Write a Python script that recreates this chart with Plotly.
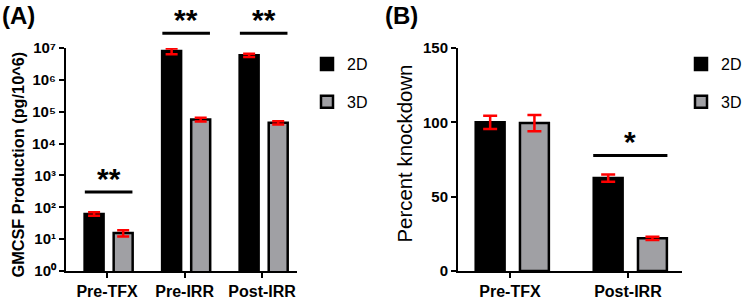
import math
import plotly.graph_objects as go

# ---------------- data ----------------
categories_A = ["Pre-TFX", "Pre-IRR", "Post-IRR"]
gmcsf_2d = [62, 8.0e6, 5.9e6]
gmcsf_2d_err = [8, 1.6e6, 7e5]
gmcsf_3d = [15.5, 5.7e4, 4.5e4]
gmcsf_3d_err = [3.5, 8e3, 5.5e3]
sig_A_x = [0, 1, 2]
sig_A_labels = ["**", "**", "**"]
sig_A_y = [300, 2.9e7, 2.9e7]
log_tickvals = [1, 10, 100, 1e3, 1e4, 1e5, 1e6, 1e7]
log_ticktext = ["10⁰", "10¹", "10²", "10³", "10⁴", "10⁵", "10⁶", "10⁷"]
title_A = "GMCSF Production (pg/10^6)"

categories_B = ["Pre-TFX", "Post-IRR"]
kd_2d = [100, 62.5]
kd_2d_err = [4.5, 2.4]
kd_3d = [99.5, 22]
kd_3d_err = [5.5, 1.1]
sig_B_x = [1]
sig_B_labels = ["*"]
sig_B_y = [77.7]
kd_tickvals = [0, 50, 100, 150]
title_B = "Percent knockdown"

series_names = ["2D", "3D"]

# ---------------- style ----------------
FONT = "Liberation Sans, Arial, sans-serif"
BLACK = "#000000"
GREY = "#a0a0a4"
RED = "#ff0000"
W = 0.245
OFF_2D, OFF_3D = -0.29, 0.085
ydom = [(300 - 271) / 300, (300 - 48) / 300]
LOG_MAX = 7
# invisible helper axis with the same scale as yaxis but reaching the top of the figure,
# so the significance bars above 10^7 are not hidden
ydom_sig = [ydom[0], 1.0]
log_max_sig = LOG_MAX * (ydom_sig[1] - ydom_sig[0]) / (ydom[1] - ydom[0])

fig = go.Figure()

def bars(x, y, err, name, color, off, xa, ya, legend, cap):
    fig.add_trace(go.Bar(
        x=x, y=y, name=name, width=W, offset=off,
        marker=dict(color=color, line=dict(color=BLACK, width=2.5)),
        error_y=dict(type="data", array=err, color=RED, thickness=2.5, width=cap),
        xaxis=xa, yaxis=ya, legend=legend, legendgroup=legend + name,
        showlegend=True,
    ))

xA = list(range(len(categories_A)))
xB = list(range(len(categories_B)))
bars(xA, gmcsf_2d, gmcsf_2d_err, series_names[0], BLACK, OFF_2D, "x", "y", "legend", 6)
bars(xA, gmcsf_3d, gmcsf_3d_err, series_names[1], GREY, OFF_3D, "x", "y", "legend", 6)
bars(xB, kd_2d, kd_2d_err, series_names[0], BLACK, OFF_2D, "x2", "y2", "legend2", 7)
bars(xB, kd_3d, kd_3d_err, series_names[1], GREY, OFF_3D, "x2", "y2", "legend2", 7)

# significance bars (markers) + stars (annotations)
grp_center = (OFF_2D + OFF_3D + W) / 2
star_annotations = []
def sig(xs, ys, labels, xa, ya, size, log_axis):
    px = [x + grp_center for x in xs]
    fig.add_trace(go.Scatter(
        x=px, y=ys, mode="markers", cliponaxis=False, showlegend=False, hoverinfo="skip",
        marker=dict(symbol="line-ew", size=size, line=dict(color=BLACK, width=3)),
        xaxis=xa, yaxis=ya))
    for x, y, lab in zip(px, ys, labels):
        star_annotations.append(dict(
            text=lab, x=x, y=math.log10(y) if log_axis else y,
            xref=xa, yref=ya, xanchor="center", yanchor="middle", yshift=14,
            showarrow=False, font=dict(family=FONT, size=30, color=BLACK, weight="bold")))

sig(sig_A_x, sig_A_y, sig_A_labels, "x", "y3", 34, True)
sig(sig_B_x, sig_B_y, sig_B_labels, "x2", "y2", 53, False)

axis_common = dict(showline=True, linecolor=BLACK, linewidth=2, ticks="outside",
                   tickcolor=BLACK, tickwidth=2, showgrid=False, zeroline=False,
                   automargin=False)

fig.update_layout(
    width=749, height=300, margin=dict(l=0, r=0, t=0, b=0),
    plot_bgcolor="rgba(0,0,0,0)", paper_bgcolor="white",
    font=dict(family=FONT, color=BLACK),
    xaxis=dict(domain=[66 / 749, 297 / 749], range=[-0.53, 2.45],
               tickvals=xA, ticktext=categories_A, ticklen=5,
               tickfont=dict(size=16, weight="bold"), **axis_common),
    yaxis=dict(domain=ydom, type="log", range=[0, LOG_MAX],
               tickvals=log_tickvals, ticktext=log_ticktext, ticklen=5,
               tickfont=dict(size=15, weight="bold"), **axis_common),
    yaxis3=dict(domain=ydom_sig, type="log", range=[0, log_max_sig], anchor="x",
                visible=False, showgrid=False, zeroline=False, automargin=False),
    xaxis2=dict(domain=[458 / 749, 682 / 749], range=[-0.44, 1.458],
                tickvals=xB, ticktext=categories_B, ticklen=5,
                tickfont=dict(size=16, weight="bold"), anchor="y2", **axis_common),
    yaxis2=dict(domain=ydom, range=[0, 150], tickvals=kd_tickvals, ticklen=5,
                tickfont=dict(size=15, weight="bold"), anchor="x2", **axis_common),
    legend=dict(x=307 / 749, y=1 - 47 / 300, xanchor="left", yanchor="top",
                font=dict(size=16), tracegroupgap=14, bgcolor="rgba(0,0,0,0)"),
    legend2=dict(x=681 / 749, y=1 - 47 / 300, xanchor="left", yanchor="top",
                 font=dict(size=16), tracegroupgap=14, bgcolor="rgba(0,0,0,0)"),
    annotations=[
        dict(text="<b>(A)</b>", x=0, y=1, xref="paper", yref="paper", xanchor="left",
             yanchor="top", showarrow=False, font=dict(size=24)),
        dict(text="<b>(B)</b>", x=383 / 749, y=1, xref="paper", yref="paper", xanchor="left",
             yanchor="top", showarrow=False, font=dict(size=24)),
        dict(text="<b>" + title_A + "</b>", textangle=-90, x=17.5 / 749, y=1 - 165 / 300,
             xref="paper", yref="paper", xanchor="center", yanchor="middle",
             showarrow=False, font=dict(size=16.3)),
        dict(text=title_B, textangle=-90, x=404.5 / 749, y=1 - 154 / 300,
             xref="paper", yref="paper", xanchor="center", yanchor="middle",
             showarrow=False, font=dict(size=20.4)),
    ] + star_annotations,
)

fig.write_html("out.html", config={"displayModeBar": False},
               post_script="document.body.style.margin='0px';document.body.style.overflow='hidden';")
